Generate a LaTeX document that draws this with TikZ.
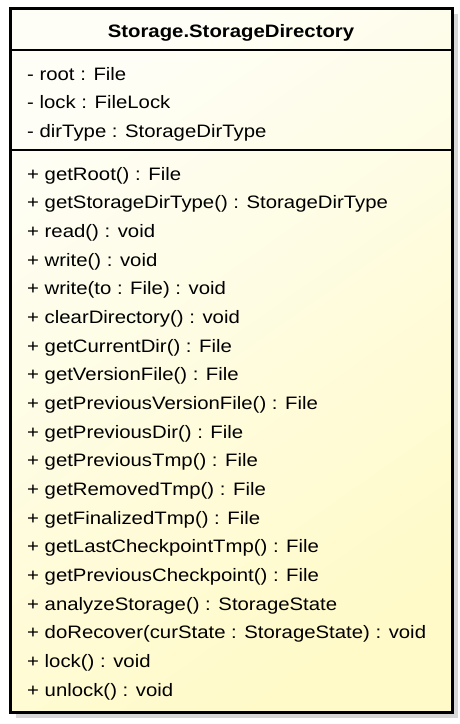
\documentclass[tikz,border=0pt]{standalone}
\usepackage{fontspec}
\setmainfont[FakeStretch=1.13]{Liberation Sans}
\begin{document}
\begin{tikzpicture}[x=1pt,y=-1pt,
  txt/.style={anchor=base west,inner sep=0pt,font=\fontsize{18}{21}\selectfont},
  ttl/.style={anchor=base,inner sep=0pt,font=\fontsize{18}{21}\selectfont\bfseries}]
\useasboundingbox (0,0) rectangle (460,724);
\fill[white] (0,0) rectangle (460,724);
% shadow
\fill[black!16] (16,14) rectangle (458,718);
% box
\shade[shading=axis,top color={rgb,255:red,254;green,254;blue,246},bottom color={rgb,255:red,255;green,250;blue,200},shading angle=35] (10,8) rectangle (452,712);
\draw[line width=3pt] (10,8) rectangle (452,712);
\draw[line width=1.4pt] (10,50) -- (452,50);
\draw[line width=1.4pt] (10,150) -- (452,150);
\node[ttl] (title) at (231,37) {Storage.StorageDirectory};
\node[txt] (a1) at (27,80) {- root : File};
\node[txt] (a2) at (27,108.7) {- lock : FileLock};
\node[txt] (a3) at (27,137.3) {- dirType : StorageDirType};
\foreach \t [count=\i from 0] in {
 {+ getRoot() : File},
 {+ getStorageDirType() : StorageDirType},
 {+ read() : void},
 {+ write() : void},
 {+ write(to : File) : void},
 {+ clearDirectory() : void},
 {+ getCurrentDir() : File},
 {+ getVersionFile() : File},
 {+ getPreviousVersionFile() : File},
 {+ getPreviousDir() : File},
 {+ getPreviousTmp() : File},
 {+ getRemovedTmp() : File},
 {+ getFinalizedTmp() : File},
 {+ getLastCheckpointTmp() : File},
 {+ getPreviousCheckpoint() : File},
 {+ analyzeStorage() : StorageState},
 {+ doRecover(curState : StorageState) : void},
 {+ lock() : void},
 {+ unlock() : void}}
 \node[txt] (m\i) at (27,{180+28.67*\i}) {\t};
\end{tikzpicture}
\end{document}
